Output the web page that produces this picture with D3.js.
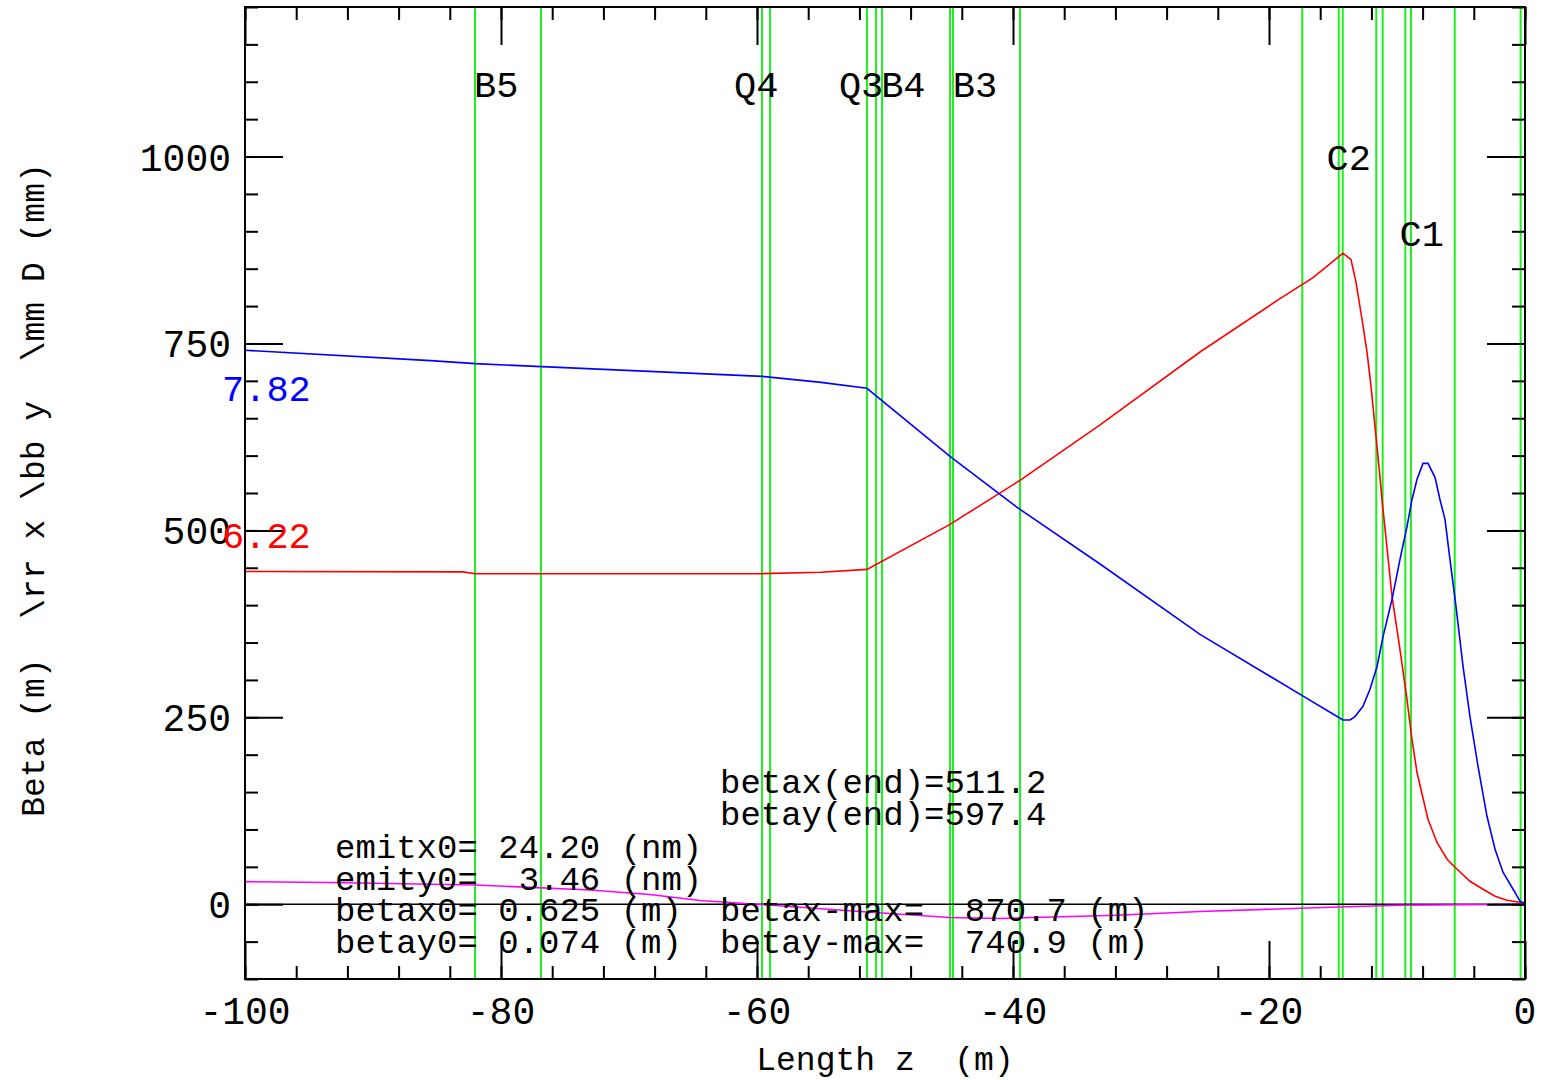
<!DOCTYPE html>
<html>
<head>
<meta charset="utf-8">
<script src="https://cdn.jsdelivr.net/npm/d3@7"></script>
<style>
  body { margin: 0; background: #fff; }
  svg text { font-family: "Liberation Mono", "DejaVu Sans Mono", monospace; fill: #000; white-space: pre; }
</style>
</head>
<body>
<div id="chart"></div>
<script>
// Optics data (z in m, beta in m, D in mm)
const betaxZ = [-100, -83, -82, -60, -55, -51.41, -44.92, -39.45, -33.2, -25.39, -19.14, -16.56, -14.22, -13.59, -13.2, -12.73, -12.34, -12.03, -11.72, -11.41, -11.17, -10.39, -9.77, -9.22, -8.83, -8.44, -7.58, -6.88, -6.09, -5.47, -4.3, -3.28, -2.34, -1.41, -0.39, 0];
const betaxV = [445, 444.5, 442, 442, 444, 447.9, 508, 567, 641, 738.6, 810, 838, 870.7, 862, 831.6, 782, 738, 692.5, 639, 585.6, 541, 412, 341, 274, 220.6, 176.5, 113.6, 82.9, 60.2, 49.5, 30.7, 20, 10.7, 5.3, 2.7, 0.6];

const betayZ = [-100, -85.5, -82, -59.6, -55, -51.41, -44.92, -39.45, -33.2, -25.39, -17.4, -15.23, -14.22, -13.67, -13.28, -12.66, -12.11, -11.56, -11.09, -10.39, -9.77, -9.22, -8.83, -8.44, -7.97, -7.58, -7.03, -6.64, -6.25, -5.86, -5.39, -4.84, -4.3, -3.67, -2.97, -2.34, -1.72, -1.02, -0.39, 0];
const betayV = [740.9, 727, 723, 706, 698, 690, 599, 528, 455, 361, 279, 256.7, 246.4, 246.4, 251, 264.7, 287.4, 318, 358, 407.8, 461, 505, 541, 568, 589.6, 589.6, 571, 541, 514.7, 461, 398, 318, 251, 184.5, 117.6, 73.5, 42.8, 22.7, 4, 1];

const dispZ = [-100, -93.44, -82.03, -73.05, -68.36, -64.45, -57.97, -51.41, -44.92, -41, -38.44, -31.88, -25.39, -15.23, -9.77, 0];
const dispV = [30.3, 29, 25.8, 19.1, 13, 5, -2.3, -10.3, -17.8, -19, -17.8, -14.7, -9.8, -4, -1.3, 0];

// element edges (green lines) and their names
const elemZ = [-82.03, -76.88, -59.61, -58.98, -51.41, -50.70, -50.23, -44.92, -44.69, -39.45, -17.40, -14.55, -14.24, -11.62, -11.12, -9.35, -8.91, -5.49, -0.34];
const elemNames = ["B5", "Q4", "Q3", "B4", "B3", "C2", "C1"];
const elemNameZ = [-82.1, -61.8, -53.6, -50.3, -44.7, -15.5, -9.8];
const elemNameV = [1080, 1080, 1080, 1080, 1080, 982, 881];

// tick values
const xMajor = [-100, -80, -60, -40, -20, 0];
const yMajor = [0, 250, 500, 750, 1000];

// info text
const infoLeft = ["emitx0= 24.20 (nm)", "emity0=  3.46 (nm)", "betax0= 0.625 (m)", "betay0= 0.074 (m)"];
const infoRight = ["betax(end)=511.2", "betay(end)=597.4", "betax-max=  870.7 (m)", "betay-max=  740.9 (m)"];

const width = 1550, height = 1080;
const plotL = 245, plotR = 1525, plotT = 7, plotB = 979;

const svg = d3.select("#chart").append("svg")
    .attr("width", width)
    .attr("height", height)
    .style("background", "#fff");

const x = d3.scaleLinear().domain([-100, 0]).range([plotL, plotR]);
const y = d3.scaleLinear().domain([-100, 1200]).range([plotB, plotT]);

// green element lines
svg.append("g").selectAll("line")
    .data(elemZ)
    .enter().append("line")
    .attr("x1", d => x(d)).attr("x2", d => x(d))
    .attr("y1", plotT).attr("y2", plotB)
    .style("stroke", "#1fee1f")
    .style("stroke-width", 2);

// zero line
svg.append("line")
    .attr("x1", plotL).attr("x2", plotR)
    .attr("y1", y(0)).attr("y2", y(0))
    .style("stroke", "#000").style("stroke-width", 1.5);

// curves
const line = d3.line().x(d => x(d[0])).y(d => y(d[1]));
function drawCurve(zs, vs, color) {
    svg.append("path")
        .datum(zs.map((z, i) => [z, vs[i]]))
        .attr("d", line)
        .style("fill", "none")
        .style("stroke", color)
        .style("stroke-width", 1.6);
}
drawCurve(betaxZ, betaxV, "#ff0000");
drawCurve(betayZ, betayV, "#0000ff");
drawCurve(dispZ, dispV, "#ff00ff");

// inward ticks: major long, minor short
function ticks(g, axis) {
    g.call(axis);
    g.select(".domain").remove();
    g.selectAll("line").style("stroke", "#000").style("stroke-width", 2);
}

svg.append("g").attr("transform", `translate(${plotL},0)`)
    .call(ticks, d3.axisLeft(y).tickValues(d3.range(-100, 1201, 50)).tickSize(-13).tickFormat(""));
svg.append("g").attr("transform", `translate(${plotL},0)`)
    .call(ticks, d3.axisLeft(y).tickValues(yMajor).tickSize(-38).tickFormat(""));
svg.append("g").attr("transform", `translate(${plotR},0)`)
    .call(ticks, d3.axisRight(y).tickValues(d3.range(-100, 1201, 50)).tickSize(-13).tickFormat(""));
svg.append("g").attr("transform", `translate(${plotR},0)`)
    .call(ticks, d3.axisRight(y).tickValues(yMajor).tickSize(-38).tickFormat(""));
svg.append("g").attr("transform", `translate(0,${plotB})`)
    .call(ticks, d3.axisBottom(x).tickValues(d3.range(-100, 1, 4)).tickSize(-13).tickFormat(""));
svg.append("g").attr("transform", `translate(0,${plotB})`)
    .call(ticks, d3.axisBottom(x).tickValues(xMajor).tickSize(-38).tickFormat(""));
svg.append("g").attr("transform", `translate(0,${plotT})`)
    .call(ticks, d3.axisTop(x).tickValues(d3.range(-100, 1, 4)).tickSize(-13).tickFormat(""));
svg.append("g").attr("transform", `translate(0,${plotT})`)
    .call(ticks, d3.axisTop(x).tickValues(xMajor).tickSize(-38).tickFormat(""));

// frame
svg.append("rect")
    .attr("x", plotL).attr("y", plotT)
    .attr("width", plotR - plotL).attr("height", plotB - plotT)
    .style("fill", "none").style("stroke", "#000").style("stroke-width", 2);

// tick labels
svg.append("g").selectAll("text")
    .data(yMajor)
    .enter().append("text")
    .attr("x", plotL - 14)
    .attr("y", d => y(d) + 14)
    .attr("text-anchor", "end")
    .style("font-size", "38px")
    .text(d => d);

svg.append("g").selectAll("text")
    .data(xMajor)
    .enter().append("text")
    .attr("x", d => x(d))
    .attr("y", 1024)
    .attr("text-anchor", "middle")
    .style("font-size", "38px")
    .text(d => d);

// axis titles
svg.append("text")
    .attr("x", 885).attr("y", 1070)
    .attr("text-anchor", "middle")
    .style("font-size", "33px")
    .text("Length z  (m)");

svg.append("text")
    .attr("transform", "translate(44,490) rotate(-90)")
    .attr("text-anchor", "middle")
    .style("font-size", "33px")
    .text("Beta (m)  \\rr x \\bb y  \\mm D (mm)");

// element names
svg.append("g").selectAll("text")
    .data(elemNames)
    .enter().append("text")
    .attr("x", (d, i) => x(elemNameZ[i]))
    .attr("y", (d, i) => y(elemNameV[i]))
    .style("font-size", "37px")
    .text(d => d);

// start values at the left edge
svg.append("text")
    .attr("x", 222).attr("y", 401)
    .style("font-size", "37px").style("fill", "#0000ff")
    .text("7.82");
svg.append("text")
    .attr("x", 222).attr("y", 548)
    .style("font-size", "37px").style("fill", "#ff0000")
    .text("6.22");

// info block
const rowY = [793, 825, 858, 890, 921, 953];
svg.append("g").selectAll("text")
    .data(infoLeft)
    .enter().append("text")
    .attr("x", 335)
    .attr("y", (d, i) => rowY[i + 2])
    .style("font-size", "34px")
    .text(d => d);
svg.append("g").selectAll("text")
    .data(infoRight)
    .enter().append("text")
    .attr("x", 720)
    .attr("y", (d, i) => rowY[i < 2 ? i : i + 2])
    .style("font-size", "34px")
    .text(d => d);
</script>
</body>
</html>
